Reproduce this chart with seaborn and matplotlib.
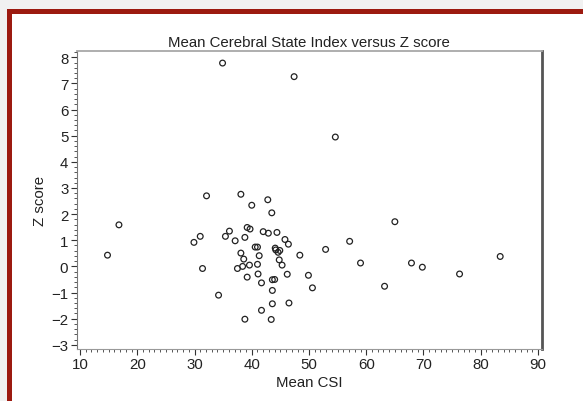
import matplotlib
matplotlib.use("Agg")
import matplotlib.pyplot as plt
from matplotlib.patches import Rectangle
from matplotlib.ticker import MultipleLocator
import seaborn as sns
import pandas as pd

mean_csi = [14.8, 16.8, 29.9, 31.0, 31.4, 32.1, 34.2, 35.4, 36.1, 37.1, 37.5, 38.1,
            38.1, 38.6, 38.4, 38.8, 38.8, 39.2, 39.7, 39.2, 39.6, 40.0, 40.6, 41.0,
            41.0, 41.1, 41.3, 41.7, 41.7, 42.0, 42.8, 42.9, 43.5, 43.4, 43.6, 44.0,
            43.6, 43.6, 44.1, 44.2, 44.4, 44.6, 44.9, 44.8, 45.3, 45.8, 46.4, 46.2,
            46.5, 48.4, 49.9, 50.6, 52.9, 57.1, 59.0, 63.2, 65.0, 67.9, 69.8, 76.3,
            83.4, 34.9, 47.4, 54.6]
z_score = [0.43, 1.59, 0.92, 1.15, -0.08, 2.70, -1.10, 1.15, 1.35, 0.98, -0.08, 2.76,
           0.51, 0.28, 0.00, 1.11, -2.02, 1.49, 1.43, -0.41, 0.05, 2.34, 0.74, 0.74,
           0.08, -0.29, 0.41, -1.68, -0.63, 1.33, 2.55, 1.27, 2.05, -2.03, -0.51, -0.50,
           -0.92, -1.43, 0.70, 0.63, 1.30, 0.54, 0.61, 0.25, 0.05, 1.03, 0.85, -0.30,
           -1.40, 0.43, -0.34, -0.82, 0.65, 0.96, 0.13, -0.76, 1.71, 0.13, -0.03, -0.29,
           0.38, 7.78, 7.26, 4.95]

x_ticks = [10, 20, 30, 40, 50, 60, 70, 80, 90]
y_ticks = [-3, -2, -1, 0, 1, 2, 3, 4, 5, 6, 7, 8]

df = pd.DataFrame({"Mean CSI": mean_csi, "Z score": z_score})

sns.set_style("white")
plt.rcParams["font.family"] = ["Liberation Sans", "DejaVu Sans"]

fig = plt.figure(figsize=(5.83, 4.02), dpi=100)
fig.patch.set_facecolor("#f1f1f1")
W, H = 583, 402
fig.patches.append(Rectangle((7 / W, 0), 1, 1 - 10 / H, transform=fig.transFigure,
                             facecolor="#9c1a10", edgecolor="none", zorder=-5))
fig.patches.append(Rectangle((12 / W, 0), 1, 1 - 15 / H, transform=fig.transFigure,
                             facecolor="white", edgecolor="none", zorder=-4))

ax = fig.add_axes([76.7 / W, 1 - 350 / H, (541.7 - 76.7) / W, (350 - 52.3) / H])
ax.set_zorder(1)
sns.scatterplot(data=df, x="Mean CSI", y="Z score", ax=ax, marker="o", s=17,
                facecolor="none", edgecolor="#222222", linewidth=0.9)

ax.set_xlim(9.42, 90.65)
ax.set_ylim(-3.16, 8.23)
ax.set_xticks(x_ticks)
ax.set_yticks(y_ticks)
ax.set_yticklabels([str(t).replace("-", "\u2212") for t in y_ticks])
ax.xaxis.set_minor_locator(MultipleLocator(1))
ax.yaxis.set_minor_locator(MultipleLocator(0.2))
ax.tick_params(axis="both", which="major", direction="out", length=4, width=0.8,
               color="#333333", labelsize=10.8, labelcolor="#222222", pad=2,
               left=True, bottom=True)
ax.tick_params(axis="both", which="minor", direction="out", length=2.2, width=0.7,
               color="#555555", left=True, bottom=True)

ax.spines["top"].set_color("#a8a8a8")
ax.spines["top"].set_linewidth(1.3)
ax.spines["right"].set_color("#555555")
ax.spines["right"].set_linewidth(2.0)
ax.spines["left"].set_color("#777777")
ax.spines["left"].set_linewidth(0.8)
ax.spines["bottom"].set_color("#999999")
ax.spines["bottom"].set_linewidth(0.8)

ax.set_title("Mean Cerebral State Index versus Z score", fontsize=10.8,
             color="#222222", pad=4)
ax.set_xlabel("Mean CSI", fontsize=10.8, color="#222222", labelpad=3)
ax.set_ylabel("Z score", fontsize=10.8, color="#222222", labelpad=3)

fig.savefig("out.png", dpi=100, facecolor=fig.get_facecolor())
